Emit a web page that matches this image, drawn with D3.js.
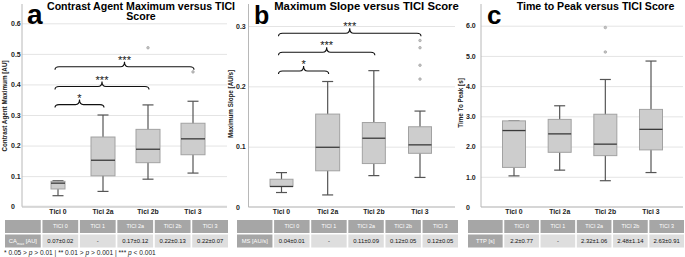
<!DOCTYPE html>
<html lang="en">
<head>
<meta charset="utf-8">
<title>Perfusion parameters versus TICI score</title>
<style>
  body { margin: 0; background: #fff; }
  text { font-family: "Liberation Sans", Arial, sans-serif; }
  .axis .domain { display: none; }
  .axis line { stroke: #e4e4e4; }
</style>
</head>
<body>
<div id="chart"></div>
<script src="https://d3js.org/d3.v7.min.js"></script>
<script>
// categories on the x axis of every panel
var cats = ["Tici 0", "Tici 2a", "Tici 2b", "Tici 3"];
// header of the small tables under the panels
var tableHead = ["TICI 0", "TICI 1", "TICI 2a", "TICI 2b", "TICI 3"];

// boxes: [lower whisker, q1, median, q3, upper whisker]
var camaxBoxes = [
  [0.036, 0.058, 0.077, 0.083, 0.085],
  [0.050, 0.101, 0.152, 0.228, 0.300],
  [0.090, 0.144, 0.188, 0.253, 0.333],
  [0.110, 0.170, 0.222, 0.273, 0.345]
];
var camaxOutliers = [[], [], [0.52], [0.441]];
var camaxTicks = [0, 0.1, 0.2, 0.3, 0.4, 0.5, 0.6];
var camaxTable = ["0.07±0.02", "-", "0.17±0.12", "0.22±0.13", "0.22±0.07"];
// significance brackets: [from, to, label, level]
var camaxSig = [[0, 1, "*", 0.334], [0, 2, "***", 0.393], [0, 3, "***", 0.458]];

var msBoxes = [
  [0.024, 0.034, 0.034, 0.046, 0.057],
  [0.020, 0.060, 0.099, 0.154, 0.208],
  [0.052, 0.072, 0.114, 0.140, 0.226],
  [0.049, 0.089, 0.103, 0.133, 0.159]
];
var msOutliers = [[], [], [], [0.276, 0.264, 0.235, 0.212]];
var msTicks = [0, 0.1, 0.2, 0.3];
var msTable = ["0.04±0.01", "-", "0.11±0.09", "0.12±0.05", "0.12±0.05"];
var msSig = [[0, 1, "*", 0.2255], [0, 2, "***", 0.2565], [0, 3, "***", 0.288]];

var ttpBoxes = [
  [1.03, 1.31, 2.53, 2.85, 2.85],
  [1.22, 1.81, 2.42, 2.90, 3.35],
  [0.87, 1.70, 2.08, 3.07, 4.22],
  [1.14, 1.89, 2.57, 3.23, 4.83]
];
var ttpOutliers = [[], [], [5.13, 5.94], []];
var ttpTicks = [0, 1, 2, 3, 4, 5, 6];
var ttpTable = ["2.2±0.77", "-", "2.32±1.06", "2.48±1.14", "2.63±0.91"];

var svg = d3.select("#chart").append("svg")
  .attr("width", 685)
  .attr("height", 257);

function drawPanel(o) {
  var g = svg.append("g");

  var y = d3.scaleLinear().domain([0, o.ymax]).range([o.yb, o.yt]);
  var x = d3.scalePoint().domain(cats).range(o.xr);

  // grid + tick labels
  g.append("g")
    .attr("class", "axis")
    .attr("transform", "translate(" + o.x0 + ",0)")
    .call(d3.axisLeft(y).tickValues(o.ticks).tickSize(-(o.x1 - o.x0))
      .tickFormat(function(d) { return d === 0 ? "0" : d3.format(".1f")(d); }))
    .selectAll("text")
      .attr("x", o.tickX - o.x0)
      .style("text-anchor", "start")
      .style("font-weight", "bold")
      .style("font-size", "7px")
      .style("fill", "#222");

  // axis lines
  g.append("line").attr("x1", o.x0).attr("x2", o.x1)
    .attr("y1", y(0)).attr("y2", y(0))
    .attr("stroke", "#d6d6d6").attr("stroke-width", 2);
  g.append("line").attr("x1", o.x0).attr("x2", o.x0)
    .attr("y1", 4).attr("y2", y(0))
    .attr("stroke", "#b8b8b8").attr("stroke-width", 1);

  // x labels
  g.selectAll(".xl").data(cats).join("text")
    .attr("x", function(d) { return x(d); })
    .attr("y", 214)
    .attr("text-anchor", "middle")
    .style("font-weight", "bold")
    .style("font-size", "6.8px")
    .style("fill", "#222")
    .text(function(d) { return d; });

  // y label
  g.append("text")
    .attr("transform", "translate(" + o.labX + "," + o.labY + ") rotate(-90)")
    .attr("text-anchor", "middle")
    .attr("dy", "0.35em")
    .style("font-weight", "bold")
    .style("font-size", "6.3px")
    .style("fill", "#222")
    .text(o.ylabel);

  // boxes
  var b = g.selectAll(".box").data(o.boxes).join("g")
    .attr("transform", function(d, i) { return "translate(" + x(cats[i]) + ",0)"; });
  var cap = 5.5;
  b.append("line").attr("y1", function(d) { return y(d[0]); }).attr("y2", function(d) { return y(d[4]); })
    .attr("stroke", "#555").attr("stroke-width", 1.2);
  b.append("line").attr("x1", -cap).attr("x2", cap)
    .attr("y1", function(d) { return y(d[0]); }).attr("y2", function(d) { return y(d[0]); })
    .attr("stroke", "#555").attr("stroke-width", 1.2);
  b.append("line").attr("x1", -cap).attr("x2", cap)
    .attr("y1", function(d) { return y(d[4]); }).attr("y2", function(d) { return y(d[4]); })
    .attr("stroke", "#555").attr("stroke-width", 1.2);
  b.append("rect")
    .attr("x", function(d, i) { return -o.bw[i] / 2; })
    .attr("width", function(d, i) { return o.bw[i]; })
    .attr("y", function(d) { return y(d[3]); })
    .attr("height", function(d) { return y(d[1]) - y(d[3]); })
    .attr("fill", "#cdcdcd").attr("stroke", "#a2a2a2").attr("stroke-width", 1);
  b.append("line")
    .attr("x1", function(d, i) { return -o.bw[i] / 2; })
    .attr("x2", function(d, i) { return o.bw[i] / 2; })
    .attr("y1", function(d) { return y(d[2]); }).attr("y2", function(d) { return y(d[2]); })
    .attr("stroke", "#3a3a3a").attr("stroke-width", 1.3);

  // outliers
  o.outliers.forEach(function(list, i) {
    g.selectAll(null).data(list).join("circle")
      .attr("cx", x(cats[i])).attr("cy", function(d) { return y(d); })
      .attr("r", 1.3).attr("fill", "#c4c4c4").attr("stroke", "#9a9a9a").attr("stroke-width", 0.6);
  });

  // significance braces
  (o.sig || []).forEach(function(s) {
    var a = x(cats[s[0]]) - 3, c = x(cats[s[1]]) + 1, m = (a + c) / 2, h = y(s[3]);
    var p = "M" + a + "," + (h + 3) + " Q" + a + "," + h + " " + (a + 4) + "," + h +
            " L" + (m - 4) + "," + h + " Q" + m + "," + h + " " + m + "," + (h - 5) +
            " Q" + m + "," + h + " " + (m + 4) + "," + h +
            " L" + (c - 4) + "," + h + " Q" + c + "," + h + " " + c + "," + (h + 3);
    g.append("path").attr("d", p).attr("fill", "none").attr("stroke", "#111").attr("stroke-width", 1.1);
    g.append("text").attr("x", m).attr("y", h - 3).attr("text-anchor", "middle")
      .style("font-size", "11px").style("fill", "#111").text(s[2]);
  });

  // titles
  g.append("text").attr("x", o.letterX).attr("y", 24)
    .style("font-weight", "bold").style("font-size", o.letterSize + "px").text(o.letter);
  o.title.forEach(function(t, i) {
    g.append("text").attr("x", o.titleX).attr("y", 9.5 + i * 10.5)
      .attr("text-anchor", "middle")
      .style("font-weight", "bold").style("font-size", o.titleSize + "px")
      .text(t);
  });

  // table
  var col = d3.scaleBand().domain(d3.range(6)).range(o.tr).paddingInner(0.045);
  var t = g.append("g");
  var rowY = [220, 234.5], rowH = 13;
  [0, 1].forEach(function(r) {
    d3.range(6).forEach(function(c) {
      t.append("rect").attr("x", col(c)).attr("y", rowY[r])
        .attr("width", col.bandwidth()).attr("height", rowH)
        .attr("fill", (r === 0 || c === 0) ? "#a6a6a6" : "#dedede");
    });
  });
  t.selectAll(".th").data(tableHead).join("text")
    .attr("x", function(d, i) { return col(i + 1) + col.bandwidth() / 2; })
    .attr("y", rowY[0] + rowH / 2).attr("dy", "0.35em")
    .attr("text-anchor", "middle")
    .style("font-size", "5.4px").style("fill", "#fff")
    .text(function(d) { return d; });
  t.selectAll(".td").data(o.table).join("text")
    .attr("x", function(d, i) { return col(i + 1) + col.bandwidth() / 2; })
    .attr("y", rowY[1] + rowH / 2).attr("dy", "0.35em")
    .attr("text-anchor", "middle")
    .style("font-size", "5.9px").style("fill", "#111")
    .text(function(d) { return d; });
  var lab = t.append("text")
    .attr("x", col(0) + col.bandwidth() / 2)
    .attr("y", rowY[1] + rowH / 2 + 2)
    .attr("text-anchor", "middle")
    .style("font-size", "5.8px").style("fill", "#fff");
  lab.append("tspan").text(o.rowLabel[0]);
  if (o.rowLabel[1]) {
    lab.append("tspan").attr("dy", 1.5).style("font-size", "3.8px").text(o.rowLabel[1]);
    lab.append("tspan").attr("dy", -1.5).text(o.rowLabel[2]);
  }
}

drawPanel({
  boxes: camaxBoxes, outliers: camaxOutliers, ticks: camaxTicks, table: camaxTable, sig: camaxSig,
  ymax: 0.6, yb: 206.7, yt: 23.3, x0: 22, x1: 227, xr: [58, 193], tickX: 11,
  bw: [14, 24, 24, 24], labX: 5, labY: 106, ylabel: "Contrast Agent Maximum [AU]",
  letter: "a", letterX: 27, letterSize: 28, titleX: 141, titleSize: 10.6,
  title: ["Contrast Agent Maximum versus TICI", "Score"],
  tr: [5, 228], rowLabel: ["CA", "max", " [AU]"]
});
drawPanel({
  boxes: msBoxes, outliers: msOutliers, ticks: msTicks, table: msTable, sig: msSig,
  ymax: 0.3, yb: 207, yt: 26, x0: 248.5, x1: 455, xr: [281.5, 420], tickX: 236,
  bw: [23, 24, 23, 23], labX: 230.5, labY: 104, ylabel: "Maximum Slope [AU/s]",
  letter: "b", letterX: 254, letterSize: 25, titleX: 366.5, titleSize: 11.3,
  title: ["Maximum Slope versus TICI Score"],
  tr: [237, 458], rowLabel: ["MS [AU/s]"]
});
drawPanel({
  boxes: ttpBoxes, outliers: ttpOutliers, ticks: ttpTicks, table: ttpTable,
  ymax: 6, yb: 207, yt: 25.7, x0: 481, x1: 683, xr: [514, 651], tickX: 466,
  bw: [23, 23, 23, 23], labX: 461, labY: 103, ylabel: "Time To Peak [s]",
  letter: "c", letterX: 487, letterSize: 26, titleX: 595.5, titleSize: 10.6,
  title: ["Time to Peak versus TICI Score"],
  tr: [468, 684], rowLabel: ["TTP [s]"]
});

// footnote
var foot = svg.append("text").attr("x", 4).attr("y", 255)
  .style("font-size", "6.6px").style("fill", "#222");
foot.append("tspan").text("* 0.05 > ");
foot.append("tspan").style("font-style", "italic").text("p");
foot.append("tspan").text(" > 0.01 | ** 0.01 > ");
foot.append("tspan").style("font-style", "italic").text("p");
foot.append("tspan").text(" > 0.001 | *** ");
foot.append("tspan").style("font-style", "italic").text("p");
foot.append("tspan").text(" < 0.001");
</script>
</body>
</html>
